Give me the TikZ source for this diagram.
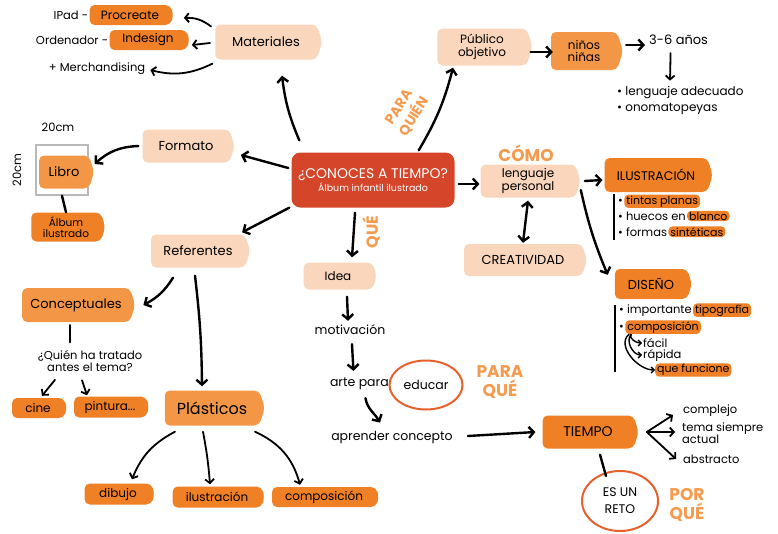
\documentclass[tikz,border=0pt]{standalone}
\usepackage{fontspec}
\setmainfont{Poppins}
\usetikzlibrary{arrows.meta,shapes.symbols,shapes.geometric,calc}
\definecolor{peach}{HTML}{FAD6BC}
\definecolor{orng}{HTML}{F08026}
\definecolor{lorng}{HTML}{F39646}
\definecolor{cred}{HTML}{D4452A}
\definecolor{lbl}{HTML}{F69A4E}
\definecolor{ring}{HTML}{E8612C}
\tikzset{
 tag/.style={signal, signal to=east, signal pointer angle=145, rounded corners=5pt, inner xsep=5pt, inner ysep=2pt, font=\fontsize{12}{12.5}\selectfont, align=center},
 pk/.style={tag, fill=peach},
 og/.style={tag, fill=orng},
 lo/.style={tag, fill=lorng},
 hl/.style={fill=orng, rounded corners=4pt, inner xsep=2pt, inner ysep=1pt, font=\fontsize{11}{12}\selectfont},
 txt/.style={font=\fontsize{11.5}{12.5}\selectfont, align=center, inner sep=1pt},
 arr/.style={line width=2.4pt, -{Straight Barb[length=5pt,width=11pt]}, line cap=round},
 thinarr/.style={line width=1.8pt, -{Straight Barb[length=4pt,width=9pt]}, line cap=round},
 ln/.style={line width=2.4pt, line cap=round},
 lab/.style={text=lbl, font=\bfseries\fontsize{16}{18}\selectfont, align=center, inner sep=0pt},
 ringnode/.style={ellipse, draw=ring, line width=2pt, inner sep=0pt},
}
\begin{document}
\begin{tikzpicture}[x=1pt,y=-1pt]
\useasboundingbox (0,0) rectangle (778,533);
% central
\node[fill=cred, rounded corners=9pt, minimum width=163pt, minimum height=55pt, text=white, align=center, inner sep=2pt] (c) at (373,180)
 {{\fontsize{14}{16}\selectfont ¿CONOCES A TIEMPO?}\\[1pt]{\fontsize{9.5}{11}\selectfont Álbum infantil ilustrado}};
% materiales
\node[pk, minimum width=107pt, minimum height=35pt, font=\fontsize{13}{15}\selectfont] (mat) at (266,42) {Materiales};
\node[og, minimum width=84pt, minimum height=20pt] (proc) at (130,15) {Procreate};
\node[txt, anchor=east] (ipad) at (proc.west) {IPad -};
\node[og, minimum width=80pt, minimum height=20pt] (ind) at (148,40) {Indesign};
\node[txt, anchor=east] (orde) at (ind.west) {Ordenador -};
\node[txt] (merch) at (97,69) {+ Merchandising};
\draw[thinarr] ([xshift=-4pt,yshift=-1pt]mat.162) to[bend right=20] ([xshift=10pt,yshift=-3pt]proc.east);
\draw[thinarr] ([xshift=-5pt,yshift=-1pt]mat.west) -- ([xshift=2pt,yshift=-5pt]ind.east);
\draw[thinarr] ([xshift=-5pt,yshift=-4pt]mat.200) to[bend left=20] ([xshift=4pt,yshift=-1pt]merch.east);
\draw[arr] ([xshift=8pt,yshift=12pt]c.north west) to[bend left=8] ([xshift=16pt,yshift=-16pt]mat.south);
% formato
\node[pk, minimum width=92pt, minimum height=33pt, font=\fontsize{13}{15}\selectfont] (form) at (186,146) {Formato};
\node[draw=gray!55, line width=1.5pt, minimum width=52pt, minimum height=50pt] (lbox) at (62,170) {};
\node[lo, minimum width=55pt, minimum height=33pt, font=\fontsize{13}{15}\selectfont] (libro) at (64,172) {Libro};
\node[txt] (cm1) at (58,127) {20cm};
\node[txt, rotate=90] (cm2) at (17,170) {20cm};
\node[og, minimum width=74pt, minimum height=29pt, font=\fontsize{10.5}{10.5}\selectfont] (alb) at (66,227) {Álbum\\ilustrado};
\draw[ln] (lbox.south) -- (alb.north);
\draw[arr] ([xshift=-4pt]form.west) to[bend right=20] ([xshift=6pt,yshift=6pt]lbox.east);
\draw[arr] ([xshift=-3pt,yshift=12pt]c.west) -- ([xshift=6pt,yshift=-9pt]form.east);
% referentes
\node[pk, minimum width=99pt, minimum height=33pt, font=\fontsize{13}{15}\selectfont] (ref) at (198,251) {Referentes};
\draw[arr] ([xshift=-2pt]c.south west) -- ([xshift=-3pt,yshift=2pt]ref.north east);
\node[lo, minimum width=113pt, minimum height=34pt, font=\fontsize{13}{15}\selectfont] (conc) at (76,305) {Conceptuales};
\draw[arr] ([xshift=-25pt,yshift=-10pt]ref.south) to[bend left=15] ([xshift=8pt]conc.east);
\node[txt] (quien) at (90,361) {¿Quién ha tratado\\antes el tema?};
\draw[ln] ([xshift=-6pt,yshift=-3pt]conc.south) -- ([xshift=-6pt,yshift=-20pt]conc.south);
\node[og, minimum width=55pt, minimum height=20pt] (cine) at (38,408) {cine};
\node[og, minimum width=75pt, minimum height=21pt] (pint) at (110,407) {pintura...};
\draw[thinarr] ([xshift=17pt,yshift=18pt]cine.north) -- ([xshift=4pt,yshift=2pt]cine.north);
\draw[thinarr] ([xshift=-28pt,yshift=16pt]pint.north) -- ([xshift=-23pt,yshift=1pt]pint.north);
\node[lo, minimum width=100pt, minimum height=35pt, font=\fontsize{16}{18}\selectfont] (plas) at (212,408) {Plásticos};
\draw[arr] ([xshift=-3pt,yshift=-8pt]ref.south) to[bend left=3] ([xshift=-10pt,yshift=4pt]plas.north);
\node[og, minimum width=70pt, minimum height=21pt] (dib) at (118,494) {dibujo};
\node[og, minimum width=92pt, minimum height=21pt] (ilu) at (217,497) {ilustración};
\node[og, minimum width=107pt, minimum height=20pt] (comp) at (324,497) {composición};
\draw[thinarr] ([xshift=-37pt,yshift=-6pt]plas.south) to[bend right=20] ([xshift=14pt,yshift=4pt]dib.north);
\draw[thinarr] ([xshift=-9pt,yshift=-6pt]plas.south) to[bend left=3] ([xshift=-7pt,yshift=2pt]ilu.north);
\draw[thinarr] ([xshift=43pt,yshift=-6pt]plas.south) to[bend left=25] ([xshift=-24pt,yshift=2pt]comp.north);
% que / idea
\node[lab, rotate=90] (que1) at (371,232) {QUÉ};
\node[pk, minimum width=73pt, minimum height=27pt] (idea) at (338,276) {Idea};
\draw[arr] ([xshift=-18pt,yshift=-5pt]c.south) -- ([xshift=14pt,yshift=5pt]idea.north);
\node[txt, font=\fontsize{12.5}{14}\selectfont] (moti) at (350,330) {motivación};
\draw[arr] ([xshift=9pt,yshift=-7pt]idea.south) -- ([xshift=-2pt,yshift=3pt]moti.north);
\node[txt, font=\fontsize{12.5}{14}\selectfont, anchor=east] (arte) at (390,384) {arte para};
\node[ringnode, minimum width=73pt, minimum height=49pt, font=\fontsize{12.5}{14}\selectfont] (edu) at (426,385) {educar};
\draw[arr] ([xshift=2pt,yshift=-8pt]moti.south) -- ([xshift=-6pt,yshift=6pt]arte.north);
\node[lab, font=\bfseries\fontsize{17}{19}\selectfont] (paraque) at (500,382) {PARA\\QUÉ};
\node[txt, font=\fontsize{12.5}{14}\selectfont] (apr) at (392,437) {aprender concepto};
\draw[arr] ([xshift=6pt,yshift=-7pt]arte.south) to[out=-80,in=120] ([xshift=-12pt,yshift=7pt]apr.north);
% tiempo
\node[og, minimum width=96pt, minimum height=33pt, font=\fontsize{14}{16}\selectfont] (tiem) at (588,432) {TIEMPO};
\draw[arr] ([xshift=14pt,yshift=1pt]apr.east) -- ([xshift=-7pt]tiem.west);
\node[txt, anchor=west] (comple) at (682,411) {complejo};
\node[txt, anchor=west, align=left, font=\fontsize{11.5}{10}\selectfont] (tema) at (681,433) {tema siempre\\actual};
\node[txt, anchor=west] (abst) at (682,459) {abstracto};
\draw[thinarr] ([xshift=8pt]tiem.east) -- ([xshift=-9pt,yshift=-4pt]comple.west);
\draw[thinarr] ([xshift=8pt]tiem.east) -- ([xshift=-6pt,yshift=1pt]tema.west);
\draw[thinarr] ([xshift=8pt]tiem.east) -- ([xshift=-6pt]abst.west);
\node[ringnode, minimum width=76pt, minimum height=60pt, align=center, font=\fontsize{12.5}{17}\selectfont] (reto) at (620,501) {ES UN\\RETO};
\draw[ln] ([xshift=12pt,yshift=-6pt]tiem.south) -- ([xshift=-14pt,yshift=-6pt]reto.north);
\node[lab, font=\bfseries\fontsize{17}{19}\selectfont] (porque) at (687,505) {POR\\QUÉ};
% publico
\node[lab, rotate=57, font=\bfseries\fontsize{14}{18}\selectfont] (paraq) at (407,112) {PARA\\QUIÉN};
\node[pk, minimum width=95pt, minimum height=37pt] (pub) at (482,47) {Público\\objetivo};
\draw[arr] ([xshift=-36pt,yshift=2pt]c.north east) to[bend right=8] ([xshift=-29pt,yshift=-2pt]pub.south);
\node[lo, minimum width=72pt, minimum height=38pt] (nin) at (584,51) {niños\\niñas};
\draw[arr] ([xshift=-2pt,yshift=-5pt]pub.east) -- ([xshift=2pt,yshift=-1pt]nin.west);
\node[txt, anchor=west, font=\fontsize{13}{15}\selectfont] (anos) at (648,40) {3-6 años};
\draw[arr] ([xshift=3pt,yshift=6pt]nin.east) -- ([xshift=-3pt,yshift=-5pt]anos.west);
\node[txt, anchor=west, align=left, font=\fontsize{12}{16}\selectfont] (leng) at (616,100) {• lenguaje adecuado\\• onomatopeyas};
\draw[thinarr] ([xshift=-8pt,yshift=-7pt]anos.south) -- ([xshift=54pt,yshift=4pt]leng.north west);
% como
\node[lab, font=\bfseries\fontsize{17}{19}\selectfont] (como) at (526,153) {CÓMO};
\node[pk, minimum width=100pt, minimum height=33pt] (lp) at (528,181) {lenguaje\\personal};
\draw[arr] ([xshift=4pt,yshift=-4pt]c.east) -- ([xshift=-1pt,yshift=-3pt]lp.west);
\node[pk, minimum width=123pt, minimum height=32pt, font=\fontsize{13}{14}\selectfont] (crea) at (523,260) {CREATIVIDAD};
\draw[line width=2.4pt, {Straight Barb[length=5pt,width=11pt]}-{Straight Barb[length=5pt,width=11pt]}] ([yshift=-3pt]lp.south) -- ([yshift=1pt]crea.north);
\node[og, minimum width=108pt, minimum height=34pt, font=\fontsize{12.5}{14}\selectfont] (ilus) at (656,175) {ILUSTRACIÓN};
\node[og, minimum width=77pt, minimum height=30pt, font=\fontsize{13}{14}\selectfont] (dis) at (651,284) {DISEÑO};
\draw[arr] ([xshift=4pt]lp.east) -- ([xshift=-2pt,yshift=-5pt]ilus.west);
\draw[arr] ([xshift=0pt,yshift=-9pt]lp.east) to[bend right=5] ([xshift=-7pt,yshift=-6pt]dis.north west);
% ilustracion bullets
\coordinate (v1a) at (614,194);
\coordinate (v1b) at (614,240);
\draw[line width=1.5pt] (v1a) -- (v1b);
\node[txt, anchor=base west] (b1) at (617,204) {•};
\node[hl, anchor=base west] (b1h) at (b1.base east) {tintas planas};
\node[txt, anchor=base west] (b2) at (617,220) {• huecos en};
\node[hl, anchor=base west] (b2h) at (b2.base east) {blanco};
\node[txt, anchor=base west] (b3) at (617,236) {• formas};
\node[hl, anchor=base west] (b3h) at (b3.base east) {sintéticas};
% diseno bullets
\coordinate (v2a) at (615,305);
\coordinate (v2b) at (615,372);
\draw[line width=1.5pt] (v2a) -- (v2b);
\node[txt, anchor=base west] (d1) at (618,313) {• importante};
\node[hl, anchor=base west] (d1h) at (d1.base east) {tipografía};
\node[txt, anchor=base west] (d2) at (618,330) {•};
\node[hl, anchor=base west] (d2h) at (d2.base east) {composición};
\node[txt, anchor=west] (fac) at (642,343) {fácil};
\node[txt, anchor=west] (rap) at (642,355) {rápida};
\node[hl, anchor=west] (qf) at (655,370) {que funcione};
\draw[line width=1.4pt, -{Straight Barb[length=3pt,width=6pt]}] ([xshift=6pt]d2h.south west) to[out=240,in=180] (fac.west);
\draw[line width=1.4pt, -{Straight Barb[length=3pt,width=6pt]}] ([xshift=6pt]d2h.south west) to[out=230,in=180] (rap.west);
\draw[line width=1.4pt, -{Straight Barb[length=3pt,width=6pt]}] ([xshift=4pt]d2h.south west) to[out=220,in=180] (qf.west);
\end{tikzpicture}
\end{document}
